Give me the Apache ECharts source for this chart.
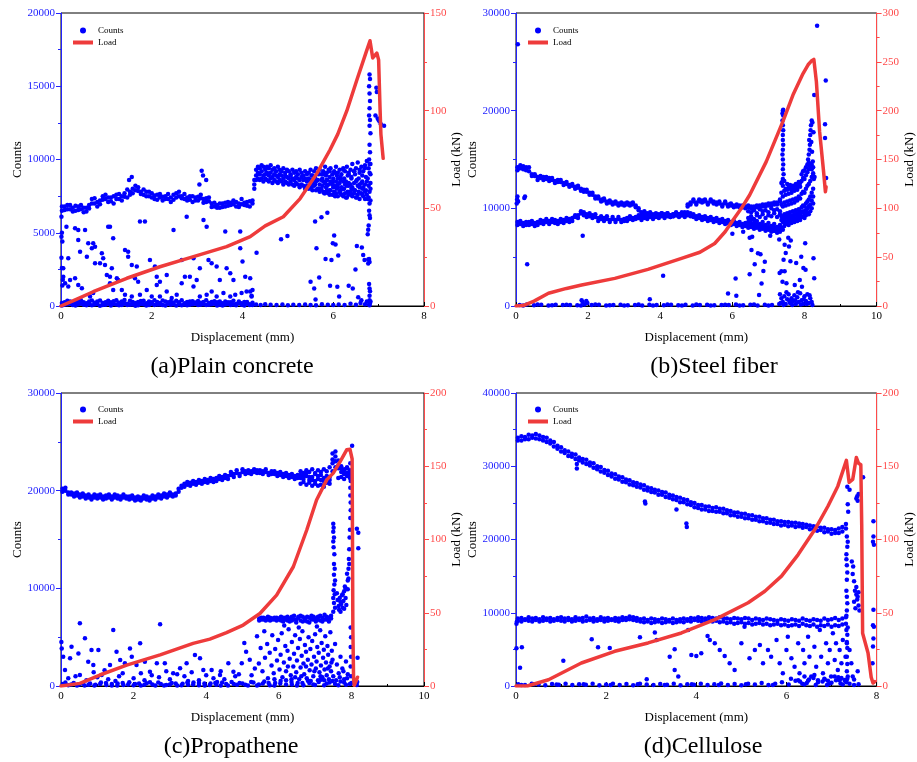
<!DOCTYPE html>
<html><head><meta charset="utf-8">
<script src="https://cdn.jsdelivr.net/npm/echarts@6/dist/echarts.min.js"></script>
<style>html,body{margin:0;padding:0;background:#fff}#c{width:917px;height:762px}</style>
</head><body><div id="c"></div><script>
// ---------- Panel (a) Plain concrete ----------
const aB1X=[0.02,0.08,0.14,0.20,0.26,0.32,0.38,0.44,0.50,0.56,0.62,0.68,0.74,0.80,0.86,0.92,0.98,1.04,1.10,1.16,1.22,1.28,1.34,1.40,1.46,1.52,1.58,1.64,1.70,1.76,1.82,1.88,1.94,2.00,2.06,2.12,2.18,2.24,2.30,2.36,2.42,2.48,2.54,2.60,2.66,2.72,2.78,2.84,2.90,2.96,3.02,3.08,3.14,3.20,3.26,3.32,3.38,3.44,3.50,3.56,3.62,3.68,3.74,3.80,3.86,3.92,3.98,4.04,4.10,4.16,4.22];
const aB1Y=[6500,6800,6600,6900,6700,6500,6800,6600,6400,6700,6900,7300,7000,6800,7200,7500,7300,7100,7400,7000,7600,7300,7500,7700,7400,7800,8000,7900,8100,7800,7600,7800,7500,7700,7300,7600,7400,7200,7500,7300,7100,7600,7400,7800,7500,7300,7200,7500,7100,7400,7200,7600,7300,7100,7400,7000,6800,6900,6700,7000,6800,7100,6900,7200,6800,7000,7300,6900,7100,6800,7200];
const aB1Y2=[6800,6550,6900,6600,6450,6850,6550,6900,6700,6450,6650,7000,7350,7100,6950,7250,7600,7400,7150,7500,7300,7650,7200,7450,7950,7600,7700,8200,7850,7650,7950,7500,7800,7400,7550,7250,7650,7450,7300,7650,7400,7250,7700,7500,7350,7650,7400,7250,7500,7200,7450,7350,7050,7350,7150,6750,7050,6700,7000,6750,7050,6850,7050,6950,7100,6750,6950,7050,6850,7150,7000];
const aBotY1=[200,80,350,150,60,250,120,400,90,180,300,50,220,130,380,70,260,160,40,320,110,230,60,410,150,90,280,200,50,340,120,180,70,260,390,100,210,60,300,150,80,240,360,120,50,190,280,90,330,160,60,230,120,400,80,270,150,40,310,190,100,250,60,350,130,200,90,280,160,70,220];
const aBotY2=[30,250,120,300,200,40,320,150,260,50,120,380,100,300,20,200,80,350,250,130,400,50,300,150,60,350,100,20,270,140,360,40,310,150,60,280,100,380,40,250,320,120,30,260,400,100,50,300,120,240,340,90,280,60,200,120,330,260,80,40,300,140,260,100,50,310,180,30,280,120,60];
const aB2X=[4.26,4.30,4.34,4.38,4.42,4.46,4.50,4.54,4.58,4.62,4.66,4.70,4.74,4.78,4.82,4.86,4.90,4.94,4.98,5.02,5.06,5.10,5.14,5.18,5.22,5.26,5.30,5.34,5.38,5.42,5.46,5.50,5.54,5.58,5.62,5.66,5.70,5.74,5.78,5.82,5.86,5.90,5.94,5.98,6.02,6.06,6.10,6.14,6.18,6.22,6.26,6.30,6.34,6.38,6.42,6.46,6.50,6.54,6.58,6.62,6.66,6.70,6.74,6.78,6.82];
const aB2Top=[8600,9300,9500,9400,9600,9500,9300,9500,9400,9600,9300,9400,9200,9500,9300,9200,9400,9100,9300,9200,9000,9300,9100,9200,9000,9300,9100,8900,9200,9000,9100,9300,8900,9200,9400,9100,9300,9000,9200,9500,9100,9300,9400,9000,9200,9500,9100,9300,9000,9400,9200,9500,9100,9300,9700,9200,9400,9800,9300,9500,9200,9600,9900,9400,9700];
const aB2Mid=[8300,8900,9100,9000,9200,8900,9000,9100,8900,9100,8800,9000,8900,8800,9000,8900,8700,8900,8800,8700,8900,8700,8600,8800,8700,8600,8800,8600,8700,8500,8700,8600,8400,8700,8500,8600,8300,8600,8500,8400,8600,8300,8500,8400,8200,8500,8300,8400,8100,8500,8300,8200,8400,8300,8100,8400,8500,8200,8300,8400,8100,8300,8500,8200,8400];
const aB2Low=[8000,8600,8700,8600,8700,8500,8700,8600,8500,8700,8400,8600,8500,8400,8600,8500,8300,8500,8400,8300,8500,8300,8200,8400,8300,8100,8300,8200,8000,8200,8000,8100,7900,8200,7900,8000,7800,8000,7800,7700,7900,7700,7900,7600,7800,7700,7500,7800,7600,7500,7700,7400,7600,7800,7500,7700,7400,7600,7300,7700,7500,7300,7600,7400,7200];
const aB2X2=[5.52,5.60,5.68,5.76,5.84,5.92,6.00,6.08,6.16,6.24,6.32,6.40,6.48,6.56,6.64,6.72,6.80];
const aB2UM=[8900,8800,9000,8700,8900,8800,8700,8900,8800,8700,8900,8800,9000,8700,8900,8800,9100];
const aB2LM=[8100,8300,8000,8200,8100,7900,8100,8000,7900,8000,7800,8000,7900,7800,8000,7900,7800];
const aB2X3=[5.80,5.86,5.92,5.98,6.04,6.10,6.16,6.22,6.28,6.34,6.40,6.46,6.52,6.58,6.64,6.70,6.76,6.82];
const aB2R6=[9000,8600,9200,8500,9100,8700,8600,9300,8500,9000,8700,9200,8600,9100,8500,9400,8700,9000];
const aB2R7=[7700,8200,7600,8300,7500,8100,7700,8000,7400,8200,7600,7900,7400,8100,7600,7800,7300,8000];
const aScatter=[[0.01,4730],[0.12,5410],[0.16,3260],[0.05,2570],[0.2,1780],[0.31,5300],[0.38,5190],[0.38,4500],[0.42,3710],[0.53,5190],[0.6,4280],[0.68,3940],[0.71,4280],[0.75,4050],[0.57,3370],[0.75,2920],[0.86,2920],[0.9,3600],[0.93,3260],[0.97,2800],[1.04,5410],[1.08,5410],[1.15,4620],[1.12,2570],[1.08,2000],[1.23,1890],[1.26,1780],[1.41,3820],[1.48,3710],[1.48,3370],[1.56,2800],[1.67,2690],[1.74,5760],[1.85,5760],[1.70,1660],[1.96,3140],[2.07,2690],[2.11,1440],[2.18,1660],[2.33,2120],[2.48,5190],[2.66,3140],[2.73,2000],[2.77,6100],[2.92,3260],[2.99,1780],[3.06,2570],[3.14,5870],[3.21,5410],[3.25,3140],[3.32,2920],[3.43,2690],[3.5,1780],[3.62,5080],[3.65,2570],[3.73,2230],[3.8,1780],[3.95,5080],[3.95,3940],[4.0,3030],[4.06,2000],[4.17,990],[3.1,9240],[3.13,8900],[3.2,8600],[3.05,8300],[1.5,8600],[1.56,8800],[0.01,6100],[0.02,5000],[0.03,4400],[0.01,3300],[0.02,2600],[0.04,1800],[0.03,1400],
[5.60,5760],[5.74,6050],[5.87,6370],[4.85,4550],[4.99,4780],[4.31,3640],[5.63,3940],[5.99,4280],[6.05,4200],[6.02,4820],[5.83,3210],[5.96,3140],[6.11,3440],[6.52,4100],[6.63,4000],[6.66,3480],[6.69,3140],[6.77,3180],[6.77,2900],[6.49,2500],[5.50,1660],[5.69,1950],[5.58,1200],[5.93,1390],[6.09,1320],[6.34,1390],[6.43,1200],[5.61,450],[6.13,640],[6.55,590],[4.17,1900],[4.2,700],[4.22,1100]];
const aLow=[[0.05,2000],[0.09,1550],[0.16,1330],[0.31,1890],[0.38,1440],[0.46,1210],[0.64,650],[0.71,880],[1.01,2120],[1.08,1550],[1.15,1100],[1.34,1100],[1.41,770],[1.56,650],[1.63,1890],[1.74,770],[1.89,1100],[2.0,650],[2.11,2000],[2.18,650],[2.33,990],[2.44,540],[2.55,770],[2.66,1550],[2.84,2000],[2.92,1330],[3.06,650],[3.21,770],[3.32,990],[3.43,650],[3.58,880],[3.73,650],[3.84,770],[3.98,880],[4.09,990],[4.2,650]];
const aBotRight=[[4.3,100],[4.4,60],[4.5,120],[4.62,80],[4.75,60],[4.88,100],[5.0,50],[5.12,90],[5.25,60],[5.38,110],[5.5,70],[5.62,50],[5.75,120],[5.88,80],[6.0,60],[6.12,100],[6.25,70],[6.38,150],[6.5,80],[6.6,200],[6.7,120],[6.74,300],[6.62,400]];
const aStack=[[6.80,15800],[6.81,15500],[6.79,15000],[6.80,14500],[6.81,14000],[6.80,13500],[6.79,13000],[6.81,12700],[6.80,12300],[6.82,11800],[6.80,11000],[6.81,10500],[6.79,10000],[6.80,9700],[6.80,7000],[6.79,6500],[6.80,6200],[6.81,6000],[6.78,5500],[6.77,5200],[6.76,4900],[6.79,3200],[6.80,3000],[6.79,1500],[6.80,1200],[6.81,1000],[6.80,700],[6.80,400],[6.81,200],[6.80,50],[6.79,100],[6.82,300],[6.95,14900],[6.96,14600],[6.98,12800],[7.0,12700],[7.02,12600],[7.05,12400],[7.12,12300],[6.93,13000]];
const loadA=[[0,0],[0.3,3],[0.71,7.3],[1.45,14.2],[2.18,20.1],[2.92,25.3],[3.65,30.4],[4.17,35.5],[4.5,41],[4.9,45.7],[5.27,55],[5.64,67.9],[5.93,80],[6.1,88],[6.3,100],[6.52,115.7],[6.74,131],[6.81,135.8],[6.87,127],[6.9,126],[6.96,129.5],[7.0,126],[7.03,102],[7.05,88],[7.1,75.6]];

// ---------- shared x grid, step 0.08 ----------
const xs08=[0.04,0.12,0.20,0.28,0.36,0.44,0.52,0.60,0.68,0.76,0.84,0.92,1.00,1.08,1.16,1.24,1.32,1.40,1.48,1.56,1.64,1.72,1.80,1.88,1.96,2.04,2.12,2.20,2.28,2.36,2.44,2.52,2.60,2.68,2.76,2.84,2.92,3.00,3.08,3.16,3.24,3.32,3.40,3.48,3.56,3.64,3.72,3.80,3.88,3.96,4.04,4.12,4.20,4.28,4.36,4.44,4.52,4.60,4.68,4.76,4.84,4.92,5.00,5.08,5.16,5.24,5.32,5.40,5.48,5.56,5.64,5.72,5.80,5.88,5.96,6.04,6.12,6.20,6.28,6.36,6.44,6.52,6.60,6.68,6.76,6.84,6.92,7.00,7.08,7.16,7.24,7.32,7.40,7.48,7.56,7.64,7.72,7.80,7.88,7.96];

// ---------- Panel (b) Steel fiber ----------
const bUY1=[14200,14100,14300,13900,14200,13500,13300,13200,13100,13200,13000,13100,12900,12800,12900,12700,12600,12500,12400,12300,12200,12100,12000,11900,11700,11600,11400,11200,11000,10900,10800,10700,10600,10600,10500,10500,10400,10500,10400,10500,10400,10300,9800,9600,9500,9500,9400,9400,9300,9400,9300,9400,9300,9300,9400,9300,9400,9500,9600,10400,10600,10700,10600,10700,10800,10700,10600,10700,10500,10600,10500,10400,10500,10400,10300,10300,10200,10300,10100,10200,10100,10200,10000,10300,10100,10400,10200,10500,10300,10600,10400,10900];
const bUY2=[13900,14400,14000,14200,13800,13300,13500,12900,13300,12900,13200,12800,13100,12600,12700,12900,12400,12700,12200,12500,12000,12300,11800,11700,11900,11400,11600,11000,11200,10700,11000,10500,10800,10400,10700,10300,10600,10300,10600,10300,10600,10100,10000,9400,9700,9300,9600,9200,9500,9200,9500,9200,9500,9100,9200,9500,9200,9300,9400,10200,10400,10900,10400,10900,10600,10900,10400,10900,10700,10400,10700,10200,10700,10200,10500,10100,10400,10100,10300,10000,10300,10000,10200,10100,10300,10200,10400,10300,10500,10400,10600,10700];
const bLY1=[8600,8400,8500,8300,8600,8400,8500,8600,8500,8700,8600,8700,8600,8800,8700,8600,8800,8700,8900,9000,9100,9300,9500,9600,9400,9200,9300,9100,9000,8900,9000,8900,8800,8900,8800,8900,8800,8900,9000,8900,9000,9100,9000,9100,9000,9200,9100,9200,9100,9300,9200,9300,9200,9300,9400,9300,9400,9300,9400,9300,9200,9100,9200,9000,9100,8900,9000,8800,8900,8700,8800,8600,8700,8500,8600,8400,8500,8300,8400,8200,8300,8100,8200,8000,8100,7900,8000,7800,7900,7700,7800,7600];
const bLY2=[8300,8700,8200,8600,8300,8700,8200,8300,8800,8400,8900,8400,8900,8500,8400,8900,8500,9000,8600,8700,9300,9000,9700,9300,9100,9500,9000,9400,8700,9200,8700,9200,8600,9100,8600,9100,8600,8700,8700,9200,8800,8900,9300,8800,9300,8900,9400,8900,9400,9000,9500,9000,9500,9100,9200,9600,9100,9600,9100,9600,9500,9400,8900,9300,8800,9200,8700,9100,8600,9000,8500,8900,8400,8800,8300,8700,8200,8600,8100,8500,8000,8400,7900,8300,7800,8200,7700,8100,7600,8000,7500,7900];
const bFillX=[6.44,6.52,6.60,6.68,6.76,6.84,6.92,7.00,7.08,7.16,7.24,7.32];
const bF1=[9000,9200,8900,9300,9100,9400,9000,9300,9200,9500,9100,9400];
const bF2=[9700,9600,9800,9500,9900,9700,9800,9600,10000,9800,9900,9700];
const bF3=[8600,8800,8500,8700,8400,8600,8300,8500,8200,8400,8100,8300];
const bCX=[7.36,7.40,7.44,7.48,7.52,7.56,7.60,7.64,7.68,7.72,7.76,7.80,7.84,7.88,7.92,7.96,8.00,8.04,8.08,8.12,8.16,8.20,8.24];
const bC1=[8000,7800,8200,8400,8600,8300,8700,8500,8800,8600,8900,8700,9000,8800,9100,9200,9000,9300,9500,9400,9700,10000,10500];
const bC2=[9200,9000,9400,9100,9500,9300,9600,9200,9700,9400,9800,9500,9900,9700,10100,10300,10200,10500,10700,10900,11200,11600,12000];
const bC3=[10400,10200,10600,10300,10700,10400,10800,10500,10900,10600,11000,10800,11200,11000,11500,11700,11600,12000,12300,12500,12800,13200,13400];
const bC4=[11600,11200,11800,11400,11900,11500,12000,11600,12100,11800,12200,11900,12400,12200,12800,13100,13000,13400,13700,14000,14300,14500,14200];
const bC5=[12600,12300,12800,12000,12500,12100,12400,11900,12300,12000,12500,12100,12700,12600,13500,13800,13900,14200,14500,14700,14400,14000,13600];
const bC6=[8800,8600,9000,8700,9100,8900,9200,8900,9300,9000,9400,9100,9500,9300,9600,9700,9500,9800,10000,10200,10400,10800,11200];
const bSpikes=[[7.40,20000],[7.41,19500],[7.39,19000],[7.40,18500],[7.41,18000],[7.40,17500],[7.40,17000],[7.41,16500],[7.40,16000],[7.39,15500],[7.40,15000],[7.41,14500],[7.40,14000],[7.42,13500],[7.40,13000],[7.38,12700],[7.41,20100],[7.39,19700],
[8.10,15000],[8.12,15500],[8.14,16000],[8.15,16500],[8.13,17000],[8.16,17500],[8.17,18000],[8.18,18500],[8.20,19000],[8.22,18800],[8.25,17800],[8.19,16800],[8.21,15800],[8.23,14800],[8.26,13000],[8.28,13200],
[8.35,28700],[8.59,23100],[8.57,18600],[8.57,17200],[8.6,13100],[8.27,21600],[0.05,26800]];
const bScatter=[[6.53,5730],[6.48,7000],[6.71,5390],[6.78,5290],[6.9,4540],[6.62,4270],[6.48,3240],[6.86,3580],[6.09,2820],[6.81,2310],[5.88,1290],[6.11,1060],[6.74,1130],[7.31,3380],[7.36,3550],[7.45,3550],[7.42,4740],[7.48,5420],[7.45,6280],[7.57,6100],[7.61,4570],[7.39,2490],[7.5,2320],[7.91,5050],[8.02,6420],[7.77,4400],[7.97,3890],[8.03,3720],[7.87,2660],[7.73,2150],[7.93,1980],[8.25,4880],[8.27,2830],[0.31,4270],[1.85,7200],[4.08,3100],[0.23,11060],[0.25,11200],[0.02,10500],[0.03,10900],[0.04,11200],[0.06,10700],[3.71,690],[1.82,600],[1.85,400],[1.95,500],[1.98,300],[6.3,7600],[6.0,7400],[6.55,7100],[7.55,7000],[7.62,6700],[7.05,7200],[7.15,7700],[7.3,6800],
[7.32,1200],[7.36,800],[7.4,400],[7.44,1000],[7.48,200],[7.52,700],[7.56,1200],[7.6,300],[7.64,800],[7.68,500],[7.72,1100],[7.76,200],[7.8,900],[7.84,400],[7.88,1300],[7.92,600],[7.96,200],[8.0,1000],[8.04,500],[8.08,1200],[8.12,300],[8.16,800],[8.2,400],[7.34,300],[7.42,100],[7.5,1400],[7.58,500],[7.66,100],[7.74,600],[7.82,1400],[7.9,150],[7.98,700],[8.06,200],[8.14,1100],[8.22,100]];
const bBot=[[0.1,100],[0.3,150],[0.5,80],[0.7,120],[0.9,60],[1.1,140],[1.3,90],[1.5,110],[1.7,70],[1.9,150],[2.1,90],[2.3,120],[2.5,60],[2.7,100],[2.9,140],[3.1,80],[3.3,110],[3.5,60],[3.7,130],[3.9,90],[4.1,70],[4.3,120],[4.5,80],[4.7,140],[4.9,60],[5.1,100],[5.3,130],[5.5,70],[5.7,110],[5.9,90],[6.1,150],[6.3,80],[6.5,120],[6.7,60],[6.9,140],[7.1,90],[7.3,200],[0.2,60],[0.6,160],[1.0,70],[1.4,130],[1.8,50],[2.2,160],[2.6,80],[3.0,50],[3.4,160],[3.8,60],[4.2,150],[4.6,50],[5.0,160],[5.4,60],[5.8,140],[6.2,50],[6.6,160],[7.0,50]];
const loadB=[[0,0],[0.2,0.5],[0.5,5],[0.9,13],[1.4,18],[1.82,21.5],[2.74,28.3],[3.66,37.5],[4.59,48.8],[5.1,55],[5.51,64],[5.8,76],[6.02,88],[6.25,100],[6.48,113.6],[6.94,147.8],[7.4,188.7],[7.68,216],[7.96,238],[8.1,247],[8.19,250.8],[8.26,252.5],[8.33,229.7],[8.42,178.5],[8.53,137.5],[8.58,117],[8.6,122]];

// ---------- Panel (c) Propathene ----------
const cUY1=[20200,20000,19800,19600,19700,19500,19600,19400,19500,19300,19400,19300,19500,19300,19400,19500,19300,19400,19300,19500,19400,19300,19200,19400,19200,19300,19100,19300,19200,19100,19300,19200,19400,19300,19500,19400,19600,19500,19600,19700,20200,20500,20700,20600,20800,20700,20900,20800,21000,20900,21100,21000,21200,21300,21200,21400,21300,21500,21600,21700,21800,21700,21900,22000,21800,22000,21900,22100,21800,22000,21900,21800,22000,21700,21800,21600,21700,21500,21600,21400,21500,21300,21600,21200,21500,21100,21400,21000,21500,21100,21300,21000,21400,22800,23500,22600,21900,22100,21800,22000];
const cUY2=[19900,20300,19600,19800,19400,19800,19300,19700,19200,19600,19100,19600,19200,19600,19100,19200,19600,19100,19600,19200,19100,19600,19400,19100,19500,19000,19400,19000,19500,19400,19000,19500,19100,19600,19200,19700,19300,19800,19400,19500,19900,20300,20400,20900,20500,21000,20600,21100,20700,21200,20800,21300,20900,21000,21500,21100,21600,21200,21900,21400,22100,21500,22200,21700,22100,21700,22200,21800,22100,21700,22200,21600,21700,22000,21500,21900,21400,21800,21300,21700,21200,21600,21300,21500,21800,21400,21100,21700,21200,21600,21000,21500,21100,23200,24000,23100,22300,21700,22300,21600];
const cSX=[6.60,6.68,6.76,6.84,6.92,7.00,7.08,7.16,7.24,7.32,7.40,7.48,7.56,7.64,7.72,7.80,7.88,7.96];
const cSUp=[22000,21800,22100,21900,22200,21800,22100,21900,22200,22000,22400,23800,23000,22300,22500,22200,22400,22100];
const cSLo=[20700,20900,20600,20800,20500,20700,20500,20600,20400,20800,20700,22000,22400,21300,21400,21200,21500,21300];
const cMX=[5.46,5.52,5.58,5.64,5.70,5.76,5.82,5.88,5.94,6.00,6.06,6.12,6.18,6.24,6.30,6.36,6.42,6.48,6.54,6.60,6.66,6.72,6.78,6.84,6.90,6.96,7.02,7.08,7.14,7.20,7.26,7.32,7.38,7.44];
const cM1=[6900,6800,7000,6900,6800,7000,6900,6800,7000,6900,6700,7000,6800,7100,6900,6700,7200,6800,7000,6700,7100,6900,6600,7000,7200,6800,6900,7100,6700,7000,7300,6800,7000,7200];
const cM2=[6700,7000,6800,6700,7100,6700,6800,7000,6700,6800,7100,6600,7000,6700,6600,7100,6800,6500,7100,7200,6600,6700,7100,6500,6800,7100,6600,6800,7200,6600,6800,7100,6600,6900];
const cSpikes=[[7.50,16600],[7.51,16200],[7.50,15800],[7.52,15200],[7.50,14800],[7.51,14200],[7.53,13500],[7.52,12500],[7.54,12000],[7.52,11400],[7.55,10800],[7.53,10400],[7.51,9800],[7.54,9400],[7.5,9000],[7.52,8500],[7.55,8000],[7.5,7600],
[7.6,9500],[7.62,8800],[7.65,8200],[7.68,9000],[7.7,7600],[7.72,8400],[7.74,9300],[7.76,8000],[7.78,8700],[7.8,9700],[7.82,10200],[7.84,9000],[7.86,8300],[7.66,7800],[7.7,8600],[7.76,9400],[7.8,7900],[7.84,10000],
[7.88,11500],[7.9,10800],[7.92,12000],[7.93,13000],[7.94,14000],[7.95,15200],[7.96,16000],[7.92,11000],[7.9,9900],[7.94,12500],
[7.97,22800],[7.98,21000],[7.97,19500],[7.98,18000],[7.97,17200],[7.98,6000],[7.99,5000],[7.98,4000],[7.99,3000],[7.98,2000],[7.99,1000],[7.98,18800],[7.97,20300],
[8.15,16100],[8.19,15700],[8.19,14100],[8.02,24600],[8.17,2900],[8.16,400]];
const cDense=[[5.05,4400],[5.1,3500],[5.2,2700],[5.34,1800],[5.25,1100],[5.4,5100],[5.45,2300],[5.5,3900],[5.55,1500],[5.6,5600],[5.62,2900],[5.68,4300],[5.7,800],[5.75,3400],[5.8,2100],[5.82,5200],[5.86,1300],[5.9,3800],[5.95,2600],[5.98,4700],[6.02,1700],[6.05,3200],[6.08,5400],[6.1,900],[6.14,2400],[6.18,4100],[6.2,1500],[6.24,3600],[6.27,5800],[6.3,2800],[6.33,1100],[6.36,4500],[6.4,2000],[6.42,3300],[6.45,5200],[6.48,1400],[6.5,2600],[6.53,3900],[6.56,700],[6.58,4800],[6.6,1900],[6.63,3100],[6.65,5600],[6.68,2300],[6.7,1200],[6.72,4200],[6.75,3500],[6.77,800],[6.8,2700],[6.82,5000],[6.85,1600],[6.87,3800],[6.9,2200],[6.92,4600],[6.95,1000],[6.97,3000],[7.0,5300],[7.02,1800],[7.04,2500],[7.06,4000],[7.08,600],[7.1,3400],[7.12,1400],[7.14,5700],[7.16,2100],[7.18,4400],[7.2,900],[7.22,2900],[7.24,3700],[7.26,1700],[7.28,5100],[7.3,2400],[7.32,1100],[7.34,4100],[7.36,3200],[7.38,700],[7.4,2000],[7.42,5500],[7.44,1500],[7.46,3600],[7.48,2700],[7.5,1000],[7.55,4300],[7.6,2200],[7.65,1300],[7.7,3000],[7.75,1800],[7.8,700],[7.85,2500],[7.9,1200],[6.15,6200],[6.55,6000],[7.05,6100],[6.35,700],[6.88,500],[7.25,600],[6.62,1000],[6.98,1500],[7.35,1800],[6.45,900],[7.15,1000],[6.75,2000],[7.45,2400],[6.25,2000],[5.88,700],[7.58,600],[7.68,900],[7.78,1500],[7.88,800]];
const cScatter=[[0.02,3850],[0.06,3000],[0.11,1640],[0.25,2830],[0.29,4020],[0.48,3340],[0.52,6420],[0.52,1120],[0.66,4880],[0.75,2490],[0.84,3680],[0.89,2150],[1.03,3680],[1.12,1120],[1.35,2150],[1.44,5730],[1.53,3510],[1.63,2660],[1.76,2320],[1.9,3850],[1.95,3000],[2.08,2150],[2.18,4370],[2.31,2490],[2.45,1470],[2.64,2320],[2.73,6320],[2.86,2320],[3.09,1300],[3.28,1810],[3.46,2320],[3.69,3170],[3.83,2830],[3.92,1640],[4.15,1640],[4.38,1120],[4.61,2320],[4.75,1470],[4.98,2320],[0.01,4500],[0.2,800],[0.4,1000],[0.7,600],[1.0,900],[1.3,700],[1.6,1000],[2.0,800],[2.3,600],[2.7,900],[3.0,700],[3.4,1000],[3.8,600],[4.2,800],[4.5,700],[4.8,1000],[1.2,1600],[1.7,1300],[2.5,1100],[3.2,1200],[3.6,1400],[4.0,1100],[4.4,1500],[4.9,1200],[0.9,1400],[1.5,500],[2.2,1300],[2.9,1500],[3.5,500],[4.3,400]];
const cBot=[[0.05,200],[0.2,80],[0.35,300],[0.5,150],[0.65,60],[0.8,250],[0.95,120],[1.1,350],[1.25,90],[1.4,200],[1.55,50],[1.7,300],[1.85,150],[2.0,80],[2.15,250],[2.3,120],[2.45,380],[2.6,60],[2.75,200],[2.9,100],[3.05,300],[3.2,50],[3.35,220],[3.5,130],[3.65,350],[3.8,70],[3.95,250],[4.1,100],[4.25,300],[4.4,60],[4.55,200],[4.7,400],[4.85,120],[5.0,250],[5.15,60],[5.3,350],[5.45,150],[5.6,450],[5.75,80],[5.9,300],[6.05,500],[6.2,150],[6.35,400],[6.5,60],[6.65,300],[6.8,550],[6.95,150],[7.1,400],[7.25,80],[7.4,350],[7.55,200],[7.7,450],[7.85,120],[8.0,300],[8.15,100],
[0.12,350],[0.28,150],[0.44,40],[0.6,280],[0.76,120],[0.92,40],[1.08,200],[1.24,300],[1.4,40],[1.56,250],[1.72,100],[1.88,380],[2.04,200],[2.2,40],[2.36,280],[2.52,150],[2.68,350],[2.84,40],[3.0,150],[3.16,250],[3.32,80],[3.48,350],[3.64,150],[3.8,300],[3.96,50],[4.12,250],[4.28,120],[4.44,350],[4.6,40],[4.76,200],[4.92,300],[5.08,120],[5.24,400],[5.4,40],[5.56,250],[5.72,300],[5.88,60],[6.04,250],[6.2,600],[6.36,150],[6.52,300],[6.68,80],[6.84,300],[7.0,100],[7.16,650],[7.32,250],[7.48,500],[7.64,80],[7.8,350],[7.96,200]];
const loadC=[[0,0],[0.52,1.8],[1.07,7.5],[1.81,14.3],[2.73,21.2],[3.64,29.1],[4.1,32],[4.56,36.4],[5.02,41.6],[5.48,49.5],[5.94,62],[6.4,81.4],[6.77,106.5],[7.04,127],[7.32,140.7],[7.5,145.3],[7.69,153.2],[7.87,161.2],[7.96,161.6],[8.02,155],[8.03,100],[8.04,40],[8.06,5],[8.08,0.5],[8.14,4],[8.17,6]];

// ---------- Panel (d) Cellulose ----------
const dUY1=[33900,34100,34000,34300,34200,34400,34200,34000,33900,33500,33300,32800,32600,32200,32000,31700,31600,31200,31000,30900,30500,30400,30000,29900,29500,29400,29000,28900,28600,28500,28200,28100,27800,27700,27500,27400,27100,27000,26800,26700,26500,26400,26100,26000,25800,25700,25500,25400,25100,25000,24700,24700,24500,24500,24300,24400,24200,24200,24000,23900,23700,23700,23500,23500,23300,23300,23100,23100,22900,22900,22700,22700,22500,22500,22400,22400,22300,22300,22200,22100,22000,21900,21800,21800,21600,21600,21400,21400,21300,21500,21700,22100];
const dUY2=[33500,33500,33700,33700,33900,33800,33700,33500,33300,33100,32700,32400,32000,31800,31400,31300,31000,30800,30500,30300,30100,29800,29600,29300,29100,28800,28600,28300,28200,27900,27800,27500,27400,27200,27100,26800,26700,26500,26400,26100,26100,25800,25700,25500,25400,25100,25100,24800,24700,24400,24300,24100,24100,23900,23900,23800,23800,23600,23600,23300,23300,23100,23100,22900,22900,22700,22700,22500,22500,22300,22300,22100,22100,21900,22000,21800,21900,21700,21800,21600,21700,21400,21500,21200,21300,21000,21100,20800,20900,20900,21100,21500];
const dLY1=[9200,9300,9100,9400,9200,9300,9100,9400,9200,9300,9100,9300,9400,9200,9300,9100,9400,9200,9300,9500,9200,9300,9100,9400,9200,9300,9100,9300,9200,9400,9300,9500,9400,9300,9100,9200,9000,9200,9100,9000,9200,9100,9000,9200,9000,9100,9200,9100,9300,9200,9400,9300,9200,9400,9300,9200,9400,9300,9200,9100,9300,9200,9100,9300,9200,9000,9200,9100,9000,9200,9100,9000,8900,9100,9000,8900,9100,9000,8900,9200,9000,8900,9100,9000,8900,9200,9000,9100,9300,9000,9200,9400];
const dLY2=[8900,8800,9000,8900,8800,9000,8800,8900,9000,8800,8900,9000,8900,8800,9000,8800,8900,9000,8800,8900,9000,8800,8900,9000,8800,8900,9000,8900,8800,9000,9000,9100,9000,8900,8800,8700,8800,8600,8700,8800,8600,8700,8800,8600,8700,8800,8700,8900,8800,9000,8900,8800,9000,8900,8800,8900,8700,8800,8600,8700,8500,8600,8700,8500,8600,8400,8500,8600,8400,8500,8300,8400,8500,8300,8400,8200,8300,8400,8200,8500,8300,8200,8400,8100,8300,8200,8400,8100,8300,8200,8400,8500];
const dScatter=[[0.01,5150],[0.13,5280],[0.09,2500],[1.05,3460],[1.68,6380],[1.82,5280],[2.08,5190],[2.9,920],[2.75,6650],[3.08,7290],[3.12,6290],[3.41,4010],[3.52,5010],[3.52,2190],[3.6,1280],[3.82,7650],[3.89,4240],[4.0,4100],[4.11,4460],[4.25,6830],[4.3,6290],[4.41,5830],[4.52,4920],[4.63,4100],[4.74,3100],[4.85,2190],[5.0,5830],[5.07,8100],[5.18,3780],[5.3,4920],[5.41,5600],[5.48,3100],[5.59,4920],[5.66,4010],[5.78,6290],[5.85,3100],[5.92,1740],[6.0,4920],[6.03,6740],[6.11,3780],[6.18,2640],[6.26,5830],[6.29,1740],[6.37,4920],[6.4,3100],[6.48,6740],[6.51,4010],[6.55,1280],[6.62,5370],[6.66,2640],[6.74,7650],[6.77,4010],[6.81,1740],[6.88,5830],[6.92,3100],[6.96,4920],[6.99,1280],[7.03,7190],[7.07,3550],[7.1,5830],[7.14,2190],[7.18,4920],[7.22,3100],[7.25,6290],[7.29,830],[7.31,4010],[7.33,7650],[7.34,5830],
[6.4,1280],[6.62,1500],[6.84,1000],[7.07,1300],[7.22,1100],[7.36,1300],[6.26,800],[6.48,700],[6.7,800],[6.92,700],[7.18,800],[7.33,700],[7.4,4920],[7.44,3100],[7.47,1280],[7.5,900],[7.58,2000],
[0.01,8500],[0.02,8800],[1.35,29700],[1.35,30300],[2.86,25200],[2.87,24900],[3.56,24100],[3.78,22200],[3.79,21700],
[7.34,20400],[7.35,19000],[7.33,18000],[7.34,16500],[7.35,15500],[7.34,14500],[7.33,13000],[7.34,12200],[7.35,11300],[7.34,10300],[7.33,9600],[7.36,8000],[7.35,7000],[7.34,6000],[7.35,5200],[7.34,4000],[7.35,3000],[7.34,2000],[7.35,1000],[7.33,17300],[7.36,19700],
[7.47,15300],[7.5,14300],[7.52,13000],[7.55,12500],[7.57,11800],[7.6,11000],[7.62,10300],[7.55,13500],[7.58,12200],[7.5,11500],[7.53,10600],[7.6,12800],[7.48,16300],[7.45,17000],
[7.35,27200],[7.40,26800],[7.55,25600],[7.57,25900],[7.6,26200],[7.7,28500],[7.58,25300],[7.36,24800],[7.37,23800],
[7.93,22500],[7.93,20400],[7.92,19700],[7.94,19300],[7.93,10400],[7.92,8300],[7.94,8100],[7.93,6500],[7.92,5400],[7.91,3100]];
const dBot=[[0.05,250],[0.2,150],[0.35,300],[0.5,200],[0.65,100],[0.8,280],[0.95,180],[1.1,320],[1.25,120],[1.4,250],[1.55,180],[1.7,300],[1.85,100],[2.0,220],[2.15,320],[2.3,150],[2.45,260],[2.6,100],[2.75,300],[2.9,200],[3.05,120],[3.2,280],[3.35,180],[3.5,320],[3.65,100],[3.8,250],[3.95,180],[4.1,300],[4.25,120],[4.4,240],[4.55,330],[4.7,150],[4.85,260],[5.0,100],[5.15,300],[5.3,200],[5.45,400],[5.6,150],[5.75,300],[5.9,500],[6.05,200],[6.2,700],[6.35,300],[6.5,900],[6.65,150],[6.8,600],[6.95,300],[7.1,800],[7.25,200],[7.33,500],[7.4,300],[7.5,150],[7.6,250],[6.1,1000],[6.3,600],[6.45,400],[6.6,1100],[6.7,500],[6.85,900],[7.0,450],[7.15,1200],[7.3,700],[6.9,150],[7.2,350],[6.4,200],[0.12,150],[0.4,250],[0.9,200],[1.5,250],[2.1,150],[2.7,250],[3.3,150],[3.9,250],[4.5,150],[5.1,250],[5.7,150]];
const loadD=[[0,0],[0.25,0],[0.72,4.3],[1.45,15.7],[2.19,23.7],[2.93,29.4],[3.67,36.2],[4.41,45.3],[5.15,56.8],[5.52,64.7],[5.89,75],[6.26,89.7],[6.63,106.8],[6.92,122.7],[7.14,136.4],[7.33,154],[7.39,139],[7.47,141],[7.55,156],[7.6,152],[7.65,151],[7.67,110],[7.69,36],[7.81,22.5],[7.88,6],[7.92,2],[7.96,3]];

// ---------- axis ranges & texts ----------
const xMaxes=[8,10,10,8];
const countMaxes=[20000,30000,30000,40000];
const countSteps=[5000,10000,10000,10000];
const loadMaxes=[150,300,200,200];
const loadSteps=[50,50,50,50];
const captions=['(a)Plain concrete','(b)Steel fiber','(c)Propathene','(d)Cellulose'];

const zip=(xs,ys)=>{const n=Math.min(xs.length,ys.length);const o=[];for(let i=0;i<n;i++)o.push([xs[i],ys[i]]);return o;};
const countsA=[].concat(zip(aB1X,aBotY1),zip(aB1X,aBotY2),zip(aB1X,aB1Y),zip(aB1X,aB1Y2),zip(aB2X,aB2Top),zip(aB2X,aB2Mid),zip(aB2X,aB2Low),zip(aB2X2,aB2UM),zip(aB2X2,aB2LM),zip(aB2X3,aB2R6),zip(aB2X3,aB2R7),aScatter,aLow,aBotRight,aStack);
const countsB=[].concat(bBot,zip(xs08,bUY1),zip(xs08,bUY2),zip(xs08,bLY1),zip(xs08,bLY2),zip(bFillX,bF1),zip(bFillX,bF2),zip(bFillX,bF3),zip(bCX,bC1),zip(bCX,bC2),zip(bCX,bC3),zip(bCX,bC4),zip(bCX,bC5),zip(bCX,bC6),bSpikes,bScatter);
const countsC=[].concat(cBot,zip(xs08,cUY1),zip(xs08,cUY2),zip(cSX,cSUp),zip(cSX,cSLo),zip(cMX,cM1),zip(cMX,cM2),cSpikes,cDense,cScatter);
const countsD=[].concat(dBot,zip(xs08,dUY1),zip(xs08,dUY2),zip(xs08,dLY1),zip(xs08,dLY2),dScatter);
const countsAll=[countsA,countsB,countsC,countsD];
const loadsAll=[loadA,loadB,loadC,loadD];

// ---------- layout ----------
const FONT='"Liberation Serif","Times New Roman",serif';
const BLUE='#0000ff', AXBLUE='#2222ff', RED='#ee3b3b', AXRED='#ff4a4a';
const grids=[{left:61,top:13,width:363,height:293},{left:516,top:13,width:361,height:293},{left:61,top:393,width:363,height:293},{left:516,top:393,width:361,height:293}];
const legendPos=[[68,21],[523,21],[68,400],[523,400]];
const capPos=[[232,367],[714,367],[231,747],[703,747]];
const plain=v=>String(v);

const option={animation:false,backgroundColor:'#fff',grid:[],xAxis:[],yAxis:[],series:[],legend:[],graphic:[]};
for(let i=0;i<4;i++){
  option.grid.push(Object.assign({show:true,borderColor:'#000',borderWidth:1},grids[i]));
  option.xAxis.push({type:'value',gridIndex:i,min:0,max:xMaxes[i],interval:2,
    axisLine:{lineStyle:{color:'#000',width:1}},
    axisTick:{inside:true,length:4,lineStyle:{color:'#000'}},
    minorTick:{show:true,splitNumber:2,length:2,lineStyle:{color:'#000'}},
    axisLabel:{color:'#000',fontFamily:FONT,fontSize:11,margin:5,formatter:plain},
    splitLine:{show:false},
    name:'Displacement (mm)',nameLocation:'middle',nameGap:25,
    nameTextStyle:{color:'#000',fontFamily:FONT,fontSize:13}});
  option.yAxis.push({type:'value',gridIndex:i,position:'left',min:0,max:countMaxes[i],interval:countSteps[i],
    axisLine:{show:true,lineStyle:{color:AXBLUE,width:1}},
    axisTick:{show:true,inside:false,length:5,lineStyle:{color:AXBLUE}},
    minorTick:{show:true,splitNumber:2,length:3,lineStyle:{color:AXBLUE}},
    axisLabel:{color:AXBLUE,fontFamily:FONT,fontSize:11,margin:6,formatter:plain},
    splitLine:{show:false},
    name:'Counts',nameLocation:'middle',nameGap:37,nameRotate:90,
    nameTextStyle:{color:'#000',fontFamily:FONT,fontSize:13}});
  option.yAxis.push({type:'value',gridIndex:i,position:'right',min:0,max:loadMaxes[i],interval:loadSteps[i],
    axisLine:{show:true,lineStyle:{color:AXRED,width:1}},
    axisTick:{show:true,inside:false,length:5,lineStyle:{color:AXRED}},
    minorTick:{show:true,splitNumber:2,length:3,lineStyle:{color:AXRED}},
    axisLabel:{color:AXRED,fontFamily:FONT,fontSize:11,margin:6,formatter:plain},
    splitLine:{show:false},
    name:'Load (kN)',nameLocation:'middle',nameGap:26,nameRotate:90,
    nameTextStyle:{color:'#000',fontFamily:FONT,fontSize:13}});
  option.series.push({type:'scatter',name:'Counts',xAxisIndex:i,yAxisIndex:2*i,data:countsAll[i],
    symbol:'circle',symbolSize:4.5,itemStyle:{color:BLUE,opacity:1},silent:true,z:2});
  option.series.push({type:'line',name:'Load',xAxisIndex:i,yAxisIndex:2*i+1,data:loadsAll[i],
    symbol:'none',showSymbol:false,smooth:false,lineStyle:{color:RED,width:3.5,cap:'round',join:'round'},itemStyle:{color:RED},silent:true,z:3});
  option.legend.push({left:legendPos[i][0],top:legendPos[i][1],orient:'vertical',itemWidth:20,itemHeight:6,itemGap:3,
    selectedMode:false,
    data:[{name:'Counts',icon:'circle'},{name:'Load',icon:'path://M0 0H20V4H0Z',itemStyle:{color:RED}}],
    textStyle:{fontFamily:FONT,fontSize:9,color:'#000',lineHeight:9}});
  option.graphic.push({type:'text',x:capPos[i][0],y:capPos[i][1],style:{text:captions[i],font:'24px '+FONT,fill:'#000',align:'center',verticalAlign:'middle'}});
}
const chart=echarts.init(document.getElementById('c'),null,{renderer:'canvas'});
chart.setOption(option);
</script></body></html>
